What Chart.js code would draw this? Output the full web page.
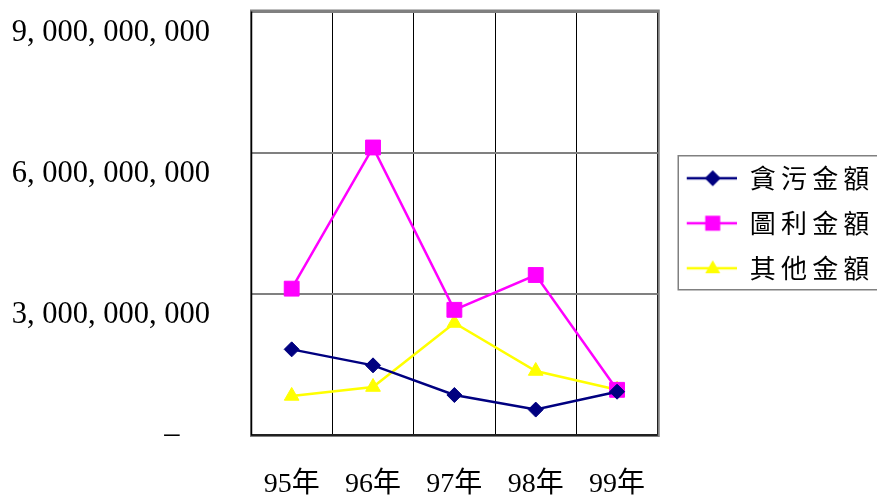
<!DOCTYPE html>
<html>
<head>
<meta charset="utf-8">
<script src="https://cdn.jsdelivr.net/npm/chart.js@4"></script>
<style>
  html, body { margin: 0; padding: 0; background: #fff; }
  #wrap { width: 877px; height: 497px; }
</style>
</head>
<body>
<div id="wrap"><canvas id="amountChart"></canvas></div>
<script>
// categories and series
var years = ['95年', '96年', '97年', '98年', '99年'];
var corruption = [1.82e9, 1.48e9, 0.85e9, 0.54e9, 0.92e9];
var profit = [3.11e9, 6.11e9, 2.66e9, 3.40e9, 0.96e9];
var other = [0.83e9, 1.02e9, 2.38e9, 1.36e9, 0.96e9];
var seriesNames = ['貪污金額', '圖利金額', '其他金額'];
var yTickLabels = ['–    ', '3, 000, 000, 000', '6, 000, 000, 000', '9, 000, 000, 000'];

// legend symbol: short line with the marker on it
function legendSymbol(color, style) {
    var c = document.createElement('canvas');
    c.width = 60;
    c.height = 20;
    var g = c.getContext('2d');
    g.strokeStyle = color;
    g.fillStyle = color;
    g.lineWidth = 2.5;
    g.beginPath();
    g.moveTo(10, 10);
    g.lineTo(60, 10);
    g.stroke();
    var cx = 36, cy = 10;
    g.beginPath();
    if (style === 'rectRot') {
        g.moveTo(cx - 8, cy); g.lineTo(cx, cy - 8); g.lineTo(cx + 8, cy); g.lineTo(cx, cy + 8);
    } else if (style === 'rect') {
        g.rect(cx - 7.5, cy - 7.5, 15, 15);
    } else {
        g.moveTo(cx, cy - 8); g.lineTo(cx + 7.5, cy + 5); g.lineTo(cx - 7.5, cy + 5);
    }
    g.closePath();
    g.fill();
    return c;
}

var colors = ['#000080', '#ff00ff', '#ffff00'];
var styles = ['rectRot', 'rect', 'triangle'];
var radii = [7.5, 10.5, 8.5];
var symbols = [0, 1, 2].map(function(i) { return legendSymbol(colors[i], styles[i]); });

// plot frame and legend box
var framePlugin = {
    id: 'frame',
    beforeDatasetsDraw: function(chart) {
        var a = chart.chartArea, ctx = chart.ctx;
        ctx.save();
        ctx.strokeStyle = '#808080';
        ctx.lineWidth = 2;
        ctx.strokeRect(a.left, a.top - 1, a.right - a.left + 1, a.bottom - a.top + 2);
        ctx.strokeStyle = '#000';
        ctx.lineWidth = 1.5;
        ctx.beginPath();
        ctx.moveTo(a.left + 0.5, a.top);
        ctx.lineTo(a.left + 0.5, a.bottom);
        ctx.lineTo(a.right, a.bottom);
        ctx.stroke();
        ctx.restore();
    },
    afterDraw: function(chart) {
        var lg = chart.legend, ctx = chart.ctx;
        if (!lg || !lg.legendHitBoxes.length) return;
        var first = lg.legendHitBoxes[0];
        ctx.save();
        ctx.strokeStyle = '#808080';
        ctx.lineWidth = 1.5;
        ctx.strokeRect(first.left + 1.5, first.top - 9.5, 230, 134);
        ctx.restore();
    }
};

var ctx = document.getElementById('amountChart').getContext('2d');

new Chart(ctx, {
    type: 'line',
    data: {
        labels: years,
        datasets: [corruption, profit, other].map(function(values, i) {
            return {
                label: seriesNames[i],
                data: values,
                borderColor: colors[i],
                backgroundColor: colors[i],
                borderWidth: 2.5,
                pointStyle: styles[i],
                pointRadius: radii[i],
                pointBorderWidth: 1,
                pointBorderColor: colors[i],
                pointBackgroundColor: colors[i],
                tension: 0,
                fill: false
            };
        })
    },
    options: {
        responsive: true,
        maintainAspectRatio: false,
        animation: false,
        layout: { padding: { top: 10, right: 0, bottom: 0, left: 0 } },
        plugins: {
            tooltip: { enabled: false },
            legend: {
                position: 'right',
                fullSize: false,
                labels: {
                    usePointStyle: true,
                    pointStyleWidth: 60,
                    padding: 19,
                    color: '#000',
                    font: { family: '"Noto Sans CJK TC"', size: 26 },
                    generateLabels: function(chart) {
                        return chart.data.datasets.map(function(ds, i) {
                            return {
                                text: ds.label.split('').join('\u2009'),
                                pointStyle: symbols[i],
                                fillStyle: colors[i],
                                strokeStyle: colors[i],
                                lineWidth: 0,
                                datasetIndex: i,
                                hidden: false
                            };
                        });
                    }
                }
            }
        },
        scales: {
            x: {
                offset: true,
                grid: { display: true, offset: true, color: '#000', lineWidth: 1, drawTicks: false },
                border: { display: false },
                ticks: {
                    padding: 33,
                    color: '#000',
                    font: { family: '"Liberation Serif", "Noto Sans CJK TC"', size: 28 }
                },
                afterFit: function(scale) {
                    scale.height = 62;
                    scale.paddingLeft = 0;
                    scale.paddingRight = 0;
                }
            },
            y: {
                min: 0,
                max: 9e9,
                grid: { color: '#808080', lineWidth: 2, drawTicks: false },
                border: { display: false },
                ticks: {
                    stepSize: 3e9,
                    autoSkip: false,
                    padding: 41,
                    color: '#000',
                    font: { family: '"Liberation Serif"', size: 30.5, lineHeight: 1.4 },
                    callback: function(value, index) {
                        var text = yTickLabels[index];
                        return index === 0 ? text : ['', text];
                    }
                },
                afterFit: function(scale) {
                    scale.width = 251;
                    scale.paddingTop = 0;
                    scale.paddingBottom = 0;
                }
            }
        }
    },
    plugins: [framePlugin]
});
</script>
</body>
</html>
